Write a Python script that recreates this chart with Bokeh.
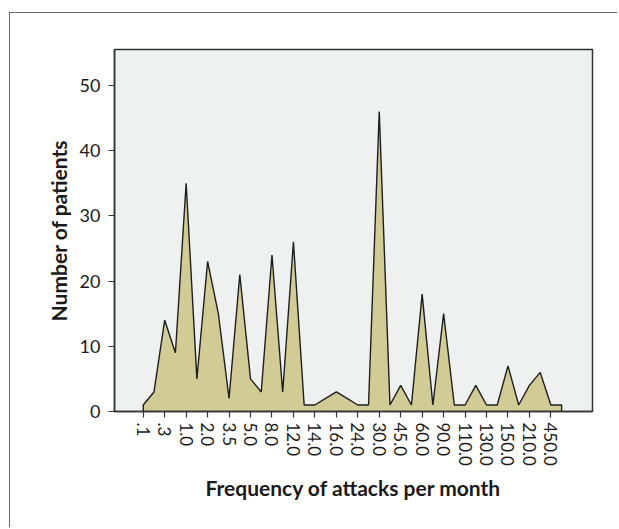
import math
from bokeh.plotting import figure
from bokeh.models import FixedTicker, Range1d
from bokeh.embed import file_html
from bokeh.resources import INLINE

# ---- data ----
tick_labels = [".1", ".3", "1.0", "2.0", "3.5", "5.0", "8.0", "12.0", "14.0", "16.0",
               "24.0", "30.0", "45.0", "60.0", "90.0", "110.0", "130.0", "150.0", "210.0", "450.0"]
counts = [1, 3, 14, 9, 35, 5, 23, 15, 2, 21,
          5, 3, 24, 3, 26, 1, 1, 2, 3, 2,
          1, 1, 46, 1, 4, 1, 18, 1, 15, 1,
          1, 4, 1, 1, 7, 1, 4, 6, 1, 1]
y_ticks = [0, 10, 20, 30, 40, 50]

idx = list(range(len(counts)))
label_pos = [2 * i for i in range(len(tick_labels))]

FONT = "Lato"
DARK = "#1e1e1e"

W, H = 617, 527
p = figure(width=W, height=H, output_backend="svg", toolbar_location=None,
           x_range=Range1d(-2.68, 41.88), y_range=Range1d(0, 55.5),
           min_border_left=114, min_border_right=W - 114 - 478,
           min_border_top=49, min_border_bottom=H - 49 - 362)

p.background_fill_color = "#eff1f0"
p.border_fill_color = None
p.styles = {
    "background": ("linear-gradient(#6a6a6a, #6a6a6a) 9px 12px / 100% 1px no-repeat, "
                   "linear-gradient(#6a6a6a, #6a6a6a) 9px 12px / 1px 100% no-repeat, white"),
}
p.outline_line_color = "#333333"
p.outline_line_width = 1.5
p.grid.visible = False

xs = [idx[0]] + idx + [idx[-1]]
ys = [0] + counts + [0]
p.patch(xs, ys, fill_color="#d1cc96", line_color=DARK, line_width=1.4)

p.xaxis.ticker = FixedTicker(ticks=label_pos)
p.xaxis.major_label_overrides = {pos: lab for pos, lab in zip(label_pos, tick_labels)}
p.xaxis.major_label_orientation = -math.pi / 2
p.yaxis.ticker = FixedTicker(ticks=y_ticks)

for ax in (p.xaxis[0], p.yaxis[0]):
    ax.axis_line_color = "#333333"
    ax.axis_line_width = 1.5
    ax.major_tick_line_color = "#333333"
    ax.major_tick_line_width = 1.2
    ax.major_tick_out = 6
    ax.major_tick_in = 0
    ax.minor_tick_line_color = None
    ax.major_label_text_font = FONT
    ax.major_label_text_font_size = "17px"
    ax.major_label_text_color = "#1a1a1a"
    ax.axis_label_text_font = FONT
    ax.axis_label_text_font_style = "bold"
    ax.axis_label_text_font_size = "21px"
    ax.axis_label_text_color = "#1a1a1a"

p.yaxis.major_label_text_font_size = "18px"
p.xaxis.axis_label = "Frequency of attacks per month"
p.yaxis.axis_label = "Number of patients"
p.xaxis.major_label_standoff = 5
p.yaxis.major_label_standoff = 8
p.xaxis.axis_label_standoff = 6
p.yaxis.axis_label_standoff = 6

open("out.html", "w").write(file_html(p, INLINE))
